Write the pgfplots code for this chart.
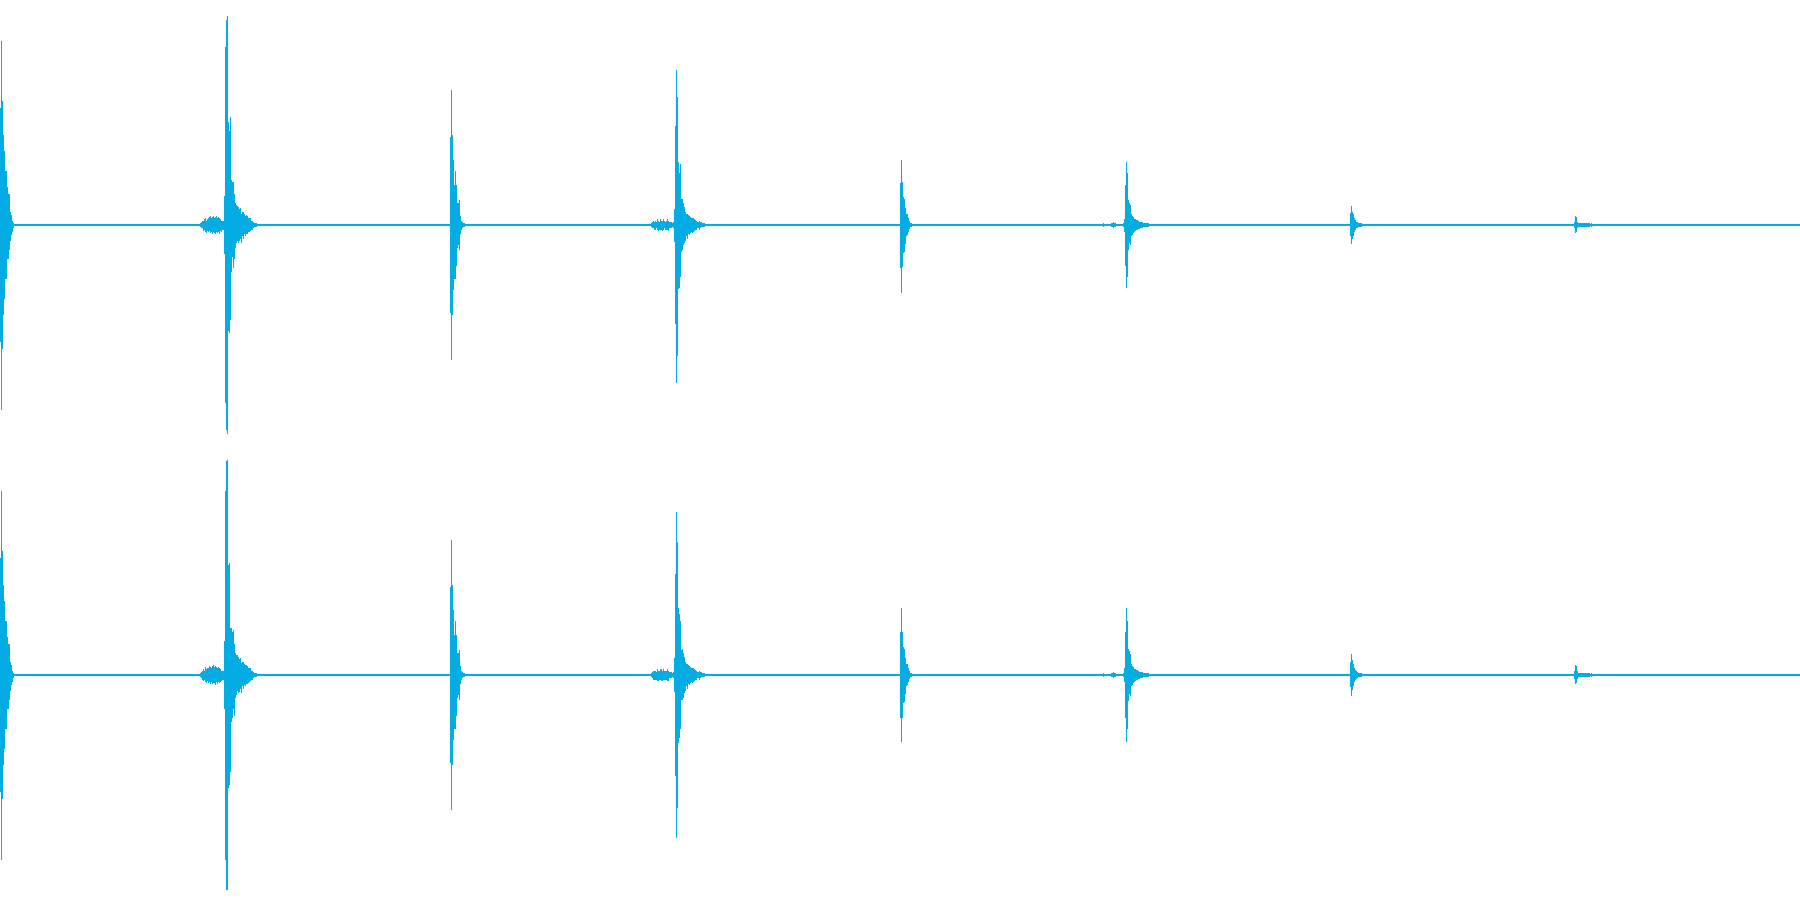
\documentclass[border=0pt]{standalone}
\usepackage{pgfplots}
\pgfplotsset{compat=1.18}
\usepackage{pgfplotstable}
\definecolor{wave}{RGB}{4,172,228}

% top channel: column, upper envelope, lower envelope
\pgfplotstableread{
x hi lo
0 0.52 -0.52
1 0.82 -0.82
2 0.55 -0.55
3 0.40 -0.40
4 0.33 -0.33
5 0.24 -0.24
6 0.24 -0.24
7 0.17 -0.15
8 0.14 -0.15
9 0.14 -0.11
10 0.06 -0.07
11 0.045 -0.045
12 0.02 -0.03
13 0.01 -0.015
14 0.006 -0.006
15 0.005 -0.005
200 0.01 -0.01
201 0.012 -0.012
202 0.02 -0.015
203 0.02 -0.025
204 0.025 -0.02
205 0.03 -0.03
206 0.02 -0.035
207 0.025 -0.025
208 0.03 -0.03
209 0.035 -0.025
210 0.04 -0.035
211 0.03 -0.03
212 0.035 -0.04
213 0.04 -0.03
214 0.03 -0.035
215 0.035 -0.04
216 0.04 -0.03
217 0.03 -0.035
218 0.035 -0.03
219 0.03 -0.04
220 0.025 -0.025
221 0.02 -0.03
222 0.02 -0.02
223 0.02 -0.02
224 0.13 -0.13
225 0.79 -0.79
226 0.91 -0.91
227 0.93 -0.93
228 0.46 -0.47
229 0.42 -0.48
230 0.48 -0.42
231 0.20 -0.21
232 0.19 -0.14
233 0.19 -0.19
234 0.14 -0.15
235 0.10 -0.10
236 0.09 -0.08
237 0.085 -0.07
238 0.08 -0.08
239 0.07 -0.07
240 0.075 -0.06
241 0.05 -0.08
242 0.06 -0.05
243 0.06 -0.06
244 0.05 -0.04
245 0.04 -0.05
246 0.045 -0.04
247 0.04 -0.04
248 0.03 -0.03
249 0.03 -0.03
250 0.03 -0.025
251 0.02 -0.02
252 0.02 -0.02
253 0.015 -0.015
254 0.01 -0.01
255 0.01 -0.01
256 0.01 -0.01
257 0.006 -0.006
258 0.005 -0.005
259 0.005 -0.005
450 0.39 -0.39
451 0.60 -0.60
452 0.40 -0.40
453 0.29 -0.29
454 0.18 -0.24
455 0.24 -0.24
456 0.18 -0.18
457 0.10 -0.10
458 0.10 -0.09
459 0.11 -0.11
460 0.04 -0.04
461 0.02 -0.02
462 0.015 -0.015
463 0.01 -0.01
464 0.01 -0.01
465 0.005 -0.005
466 0.005 -0.005
651 0.01 -0.01
652 0.015 -0.015
653 0.02 -0.015
654 0.015 -0.02
655 0.02 -0.02
656 0.015 -0.015
657 0.025 -0.02
658 0.02 -0.025
659 0.015 -0.02
660 0.025 -0.02
661 0.02 -0.02
662 0.02 -0.025
663 0.025 -0.02
664 0.02 -0.015
665 0.015 -0.02
666 0.02 -0.02
667 0.025 -0.02
668 0.02 -0.025
669 0.015 -0.015
670 0.015 -0.015
671 0.015 -0.015
672 0.01 -0.01
673 0.015 -0.015
674 0.07 -0.074
675 0.44 -0.44
676 0.69 -0.70
677 0.57 -0.58
678 0.28 -0.285
679 0.23 -0.28
680 0.27 -0.23
681 0.115 -0.12
682 0.115 -0.11
683 0.10 -0.09
684 0.08 -0.08
685 0.06 -0.07
686 0.05 -0.05
687 0.05 -0.06
688 0.045 -0.04
689 0.04 -0.045
690 0.037 -0.035
691 0.033 -0.03
692 0.03 -0.035
693 0.03 -0.03
694 0.025 -0.025
695 0.022 -0.02
696 0.018 -0.02
697 0.015 -0.015
698 0.013 -0.013
699 0.02 -0.02
700 0.013 -0.013
701 0.012 -0.01
702 0.01 -0.01
703 0.008 -0.008
704 0.007 -0.007
705 0.006 -0.006
706 0.006 -0.006
707 0.006 -0.006
708 0.005 -0.005
900 0.185 -0.19
901 0.29 -0.30
902 0.19 -0.185
903 0.125 -0.125
904 0.115 -0.12
905 0.074 -0.085
906 0.05 -0.05
907 0.05 -0.045
908 0.03 -0.03
909 0.018 -0.018
910 0.01 -0.01
911 0.008 -0.008
912 0.005 -0.005
913 0.005 -0.005
914 0.005 -0.005
915 0.005 -0.005
1103 0.01 -0.01
1104 0.005 -0.005
1105 0.006 -0.006
1106 0.006 -0.006
1107 0.006 -0.006
1108 0.006 -0.006
1109 0.006 -0.006
1110 0.006 -0.006
1111 0.008 -0.008
1112 0.01 -0.01
1113 0.012 -0.012
1114 0.01 -0.01
1115 0.007 -0.007
1116 0.006 -0.006
1117 0.006 -0.006
1118 0.006 -0.006
1119 0.006 -0.006
1120 0.006 -0.006
1121 0.006 -0.006
1122 0.006 -0.006
1123 0.008 -0.008
1124 0.027 -0.03
1125 0.18 -0.18
1126 0.28 -0.28
1127 0.23 -0.23
1128 0.11 -0.11
1129 0.10 -0.08
1130 0.09 -0.09
1131 0.05 -0.05
1132 0.04 -0.045
1133 0.035 -0.035
1134 0.027 -0.03
1135 0.027 -0.025
1136 0.022 -0.022
1137 0.022 -0.02
1138 0.018 -0.018
1139 0.015 -0.016
1140 0.015 -0.015
1141 0.013 -0.013
1142 0.012 -0.012
1143 0.01 -0.01
1144 0.008 -0.008
1145 0.009 -0.009
1146 0.01 -0.01
1147 0.008 -0.008
1148 0.007 -0.007
1149 0.006 -0.006
1150 0.005 -0.005
1151 0.005 -0.005
1152 0.005 -0.005
1350 0.055 -0.05
1351 0.084 -0.086
1352 0.06 -0.06
1353 0.047 -0.047
1354 0.03 -0.03
1355 0.022 -0.022
1356 0.015 -0.015
1357 0.012 -0.012
1358 0.01 -0.01
1359 0.007 -0.007
1360 0.007 -0.007
1361 0.007 -0.007
1362 0.005 -0.005
1574 0.015 -0.015
1575 0.04 -0.037
1576 0.034 -0.032
1577 0.015 -0.015
1578 0.01 -0.01
1579 0.01 -0.01
1580 0.007 -0.007
1581 0.007 -0.007
1582 0.007 -0.007
1583 0.007 -0.007
1584 0.007 -0.007
1585 0.007 -0.007
1586 0.007 -0.007
1587 0.007 -0.007
1588 0.007 -0.007
1589 0.01 -0.01
1591 0.01 -0.01
}\chtop

% bottom channel
\pgfplotstableread{
x hi lo
0 0.52 -0.52
1 0.82 -0.82
2 0.55 -0.55
3 0.40 -0.40
4 0.33 -0.33
5 0.24 -0.24
6 0.24 -0.24
7 0.17 -0.15
8 0.14 -0.15
9 0.14 -0.11
10 0.06 -0.07
11 0.045 -0.045
12 0.02 -0.03
13 0.01 -0.015
14 0.006 -0.006
15 0.005 -0.005
200 0.01 -0.01
201 0.015 -0.012
202 0.02 -0.02
203 0.025 -0.025
204 0.02 -0.02
205 0.035 -0.03
206 0.025 -0.035
207 0.03 -0.025
208 0.03 -0.035
209 0.04 -0.03
210 0.035 -0.04
211 0.03 -0.03
212 0.04 -0.04
213 0.045 -0.035
214 0.035 -0.035
215 0.04 -0.045
216 0.035 -0.03
217 0.03 -0.04
218 0.035 -0.03
219 0.03 -0.035
220 0.025 -0.03
221 0.02 -0.025
222 0.02 -0.02
223 0.02 -0.02
224 0.15 -0.15
225 0.82 -0.82
226 0.95 -0.955
227 0.955 -0.955
228 0.49 -0.50
229 0.50 -0.49
230 0.21 -0.43
231 0.21 -0.21
232 0.19 -0.19
233 0.20 -0.15
234 0.14 -0.18
235 0.10 -0.10
236 0.09 -0.09
237 0.09 -0.07
238 0.08 -0.08
239 0.07 -0.075
240 0.075 -0.06
241 0.055 -0.08
242 0.06 -0.05
243 0.06 -0.06
244 0.05 -0.045
245 0.045 -0.05
246 0.045 -0.04
247 0.04 -0.04
248 0.03 -0.035
249 0.03 -0.03
250 0.03 -0.025
251 0.02 -0.02
252 0.02 -0.02
253 0.015 -0.015
254 0.01 -0.01
255 0.01 -0.01
256 0.01 -0.01
257 0.006 -0.006
258 0.005 -0.005
259 0.005 -0.005
450 0.39 -0.39
451 0.60 -0.60
452 0.40 -0.40
453 0.29 -0.29
454 0.18 -0.24
455 0.24 -0.24
456 0.18 -0.18
457 0.10 -0.10
458 0.10 -0.09
459 0.11 -0.11
460 0.04 -0.04
461 0.02 -0.02
462 0.015 -0.015
463 0.01 -0.01
464 0.01 -0.01
465 0.005 -0.005
466 0.005 -0.005
651 0.01 -0.01
652 0.015 -0.015
653 0.02 -0.02
654 0.02 -0.02
655 0.02 -0.02
656 0.015 -0.02
657 0.025 -0.025
658 0.02 -0.025
659 0.02 -0.02
660 0.025 -0.02
661 0.025 -0.025
662 0.02 -0.025
663 0.025 -0.02
664 0.02 -0.02
665 0.02 -0.02
666 0.02 -0.02
667 0.025 -0.025
668 0.02 -0.025
669 0.015 -0.015
670 0.015 -0.015
671 0.015 -0.015
672 0.01 -0.01
673 0.015 -0.015
674 0.075 -0.075
675 0.45 -0.45
676 0.726 -0.726
677 0.59 -0.59
678 0.30 -0.30
679 0.27 -0.28
680 0.24 -0.24
681 0.11 -0.11
682 0.115 -0.11
683 0.10 -0.10
684 0.08 -0.08
685 0.06 -0.07
686 0.05 -0.05
687 0.05 -0.06
688 0.045 -0.04
689 0.04 -0.045
690 0.037 -0.035
691 0.033 -0.03
692 0.03 -0.035
693 0.03 -0.03
694 0.025 -0.025
695 0.022 -0.02
696 0.018 -0.02
697 0.015 -0.015
698 0.013 -0.013
699 0.02 -0.02
700 0.013 -0.013
701 0.012 -0.01
702 0.01 -0.01
703 0.008 -0.008
704 0.007 -0.007
705 0.006 -0.006
706 0.006 -0.006
707 0.006 -0.006
708 0.005 -0.005
900 0.19 -0.19
901 0.296 -0.296
902 0.19 -0.19
903 0.125 -0.125
904 0.115 -0.12
905 0.075 -0.085
906 0.05 -0.05
907 0.05 -0.045
908 0.03 -0.03
909 0.018 -0.018
910 0.01 -0.01
911 0.008 -0.008
912 0.005 -0.005
913 0.005 -0.005
914 0.005 -0.005
915 0.005 -0.005
1103 0.01 -0.01
1104 0.005 -0.005
1105 0.006 -0.006
1106 0.006 -0.006
1107 0.006 -0.006
1108 0.006 -0.006
1109 0.006 -0.006
1110 0.006 -0.006
1111 0.008 -0.008
1112 0.01 -0.01
1113 0.012 -0.012
1114 0.01 -0.01
1115 0.007 -0.007
1116 0.006 -0.006
1117 0.006 -0.006
1118 0.006 -0.006
1119 0.006 -0.006
1120 0.006 -0.006
1121 0.006 -0.006
1122 0.006 -0.006
1123 0.008 -0.008
1124 0.03 -0.03
1125 0.19 -0.19
1126 0.296 -0.296
1127 0.24 -0.24
1128 0.115 -0.115
1129 0.105 -0.085
1130 0.095 -0.095
1131 0.05 -0.05
1132 0.04 -0.045
1133 0.035 -0.035
1134 0.027 -0.03
1135 0.027 -0.025
1136 0.022 -0.022
1137 0.022 -0.02
1138 0.018 -0.018
1139 0.015 -0.016
1140 0.015 -0.015
1141 0.013 -0.013
1142 0.012 -0.012
1143 0.01 -0.01
1144 0.008 -0.008
1145 0.009 -0.009
1146 0.01 -0.01
1147 0.008 -0.008
1148 0.007 -0.007
1149 0.006 -0.006
1150 0.005 -0.005
1151 0.005 -0.005
1152 0.005 -0.005
1350 0.06 -0.055
1351 0.092 -0.092
1352 0.065 -0.065
1353 0.05 -0.05
1354 0.032 -0.032
1355 0.024 -0.024
1356 0.016 -0.016
1357 0.012 -0.012
1358 0.01 -0.01
1359 0.007 -0.007
1360 0.007 -0.007
1361 0.007 -0.007
1362 0.005 -0.005
1574 0.018 -0.018
1575 0.046 -0.042
1576 0.038 -0.036
1577 0.017 -0.017
1578 0.011 -0.011
1579 0.01 -0.01
1580 0.008 -0.008
1581 0.008 -0.008
1582 0.008 -0.008
1583 0.008 -0.008
1584 0.008 -0.008
1585 0.008 -0.008
1586 0.008 -0.008
1587 0.008 -0.008
1588 0.008 -0.008
1589 0.011 -0.011
1591 0.011 -0.011
}\chbot

\begin{document}
\begin{tikzpicture}
\pgfplotsset{wavestyle/.style={hide axis, scale only axis, width=360pt, height=90pt,
  xmin=-0.5, xmax=1799.5, ymin=-1, ymax=1, anchor=south west}}
\begin{axis}[wavestyle, at={(0pt,0pt)}]
\addplot[wave, line width=0.25pt] coordinates {(-0.5,0) (1799.5,0)};
\addplot[wave, ycomb, line width=0.3pt, mark=none] table[x=x, y=hi]{\chtop};
\addplot[wave, ycomb, line width=0.3pt, mark=none] table[x=x, y=lo]{\chtop};
\end{axis}
\begin{axis}[wavestyle, at={(0pt,-90pt)}]
\addplot[wave, line width=0.25pt] coordinates {(-0.5,0) (1799.5,0)};
\addplot[wave, ycomb, line width=0.3pt, mark=none] table[x=x, y=hi]{\chbot};
\addplot[wave, ycomb, line width=0.3pt, mark=none] table[x=x, y=lo]{\chbot};
\end{axis}
\pgfresetboundingbox
\path[use as bounding box] (0pt,-90pt) rectangle (360pt,90pt);
\end{tikzpicture}
\end{document}
